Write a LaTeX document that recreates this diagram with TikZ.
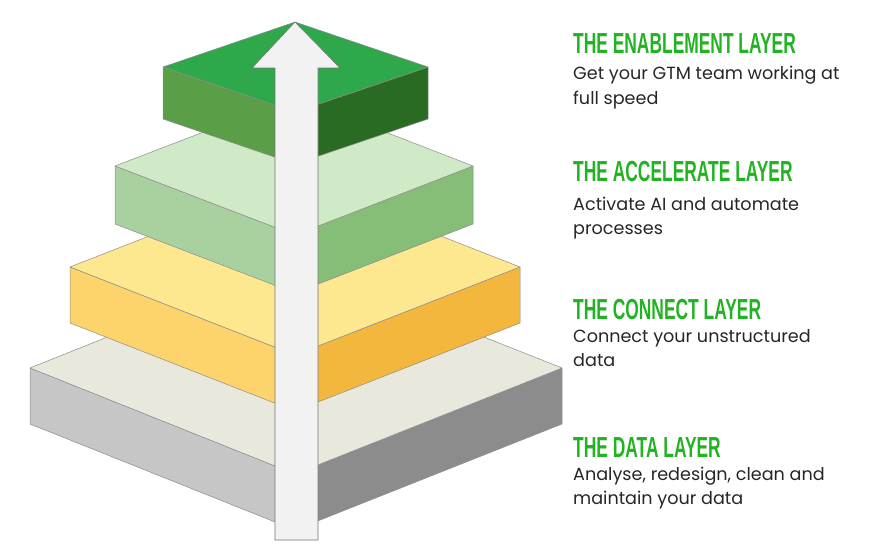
\documentclass[tikz,border=0pt]{standalone}
\usepackage{fontspec}
\setmainfont{Poppins}
\newfontfamily\headfont{Liberation Sans}
\begin{document}
\begin{tikzpicture}[x=1pt,y=-1pt,
  face/.style={draw=black!45,line width=0.5pt,line join=round},
  head/.style={anchor=base west,inner sep=0pt,text=hgreen,font=\headfont\bfseries\fontsize{29}{29}\selectfont},
  body/.style={anchor=base west,inner sep=0pt,font=\fontsize{17.6}{17.6}\selectfont,text=black!85}]
\definecolor{hgreen}{HTML}{22B322}
\useasboundingbox (0,0) rectangle (886,556);
\newcommand{\slab}[9]{%
  \fill[face,fill=#7] (#1,#2) -- (295,#4) -- (295,#4+#5) -- (#1,#2+#5) -- cycle;
  \fill[face,fill=#8] (295,#4) -- (#3,#2) -- (#3,#2+#5) -- (295,#4+#5) -- cycle;
  \fill[face,fill=#9] (#1,#2) -- (295,#6) -- (#3,#2) -- (295,#4) -- cycle;}
\definecolor{dl}{HTML}{C6C6C6}\definecolor{dr}{HTML}{8C8C8C}\definecolor{dt}{HTML}{E9E8DC}
\definecolor{cl}{HTML}{FDD36C}\definecolor{cr}{HTML}{F4B73E}\definecolor{ct}{HTML}{FDE890}
\definecolor{al}{HTML}{A9D1A0}\definecolor{ar}{HTML}{86BD77}\definecolor{at}{HTML}{D0E9C6}
\definecolor{el}{HTML}{5A9E48}\definecolor{er}{HTML}{2A6B23}\definecolor{et}{HTML}{2EA84A}
\slab{30}{368}{562}{474}{56}{262}{dl}{dr}{dt}
\slab{70}{267}{520}{355}{56}{179}{cl}{cr}{ct}
\slab{115}{166}{473}{235}{58}{97}{al}{ar}{at}
\slab{163}{67}{428}{112}{52}{22}{el}{er}{et}
\filldraw[fill=black!5,draw=black!55,line width=0.6pt,line join=miter]
  (275,540) -- (275,68) -- (252,68) -- (295,22) -- (340,68) -- (318,68) -- (318,540) -- cycle;
\node[head] (h1) at (573,54) {\scalebox{0.6}[1]{THE ENABLEMENT LAYER}};
\node[body] (b1a) at (573,80) {Get your GTM team working at};
\node[body] (b1b) at (573,105) {full speed};
\node[head] (h2) at (573,182) {\scalebox{0.6}[1]{THE ACCELERATE LAYER}};
\node[body] (b2a) at (573,211) {Activate AI and automate};
\node[body] (b2b) at (573,234) {processes};
\node[head] (h3) at (573,319) {\scalebox{0.6}[1]{THE CONNECT LAYER}};
\node[body] (b3a) at (573,342) {Connect your unstructured};
\node[body] (b3b) at (573,366) {data};
\node[head] (h4) at (573,457) {\scalebox{0.6}[1]{THE DATA LAYER}};
\node[body] (b4a) at (573,480) {Analyse, redesign, clean and};
\node[body] (b4b) at (573,504) {maintain your data};
\end{tikzpicture}
\end{document}
